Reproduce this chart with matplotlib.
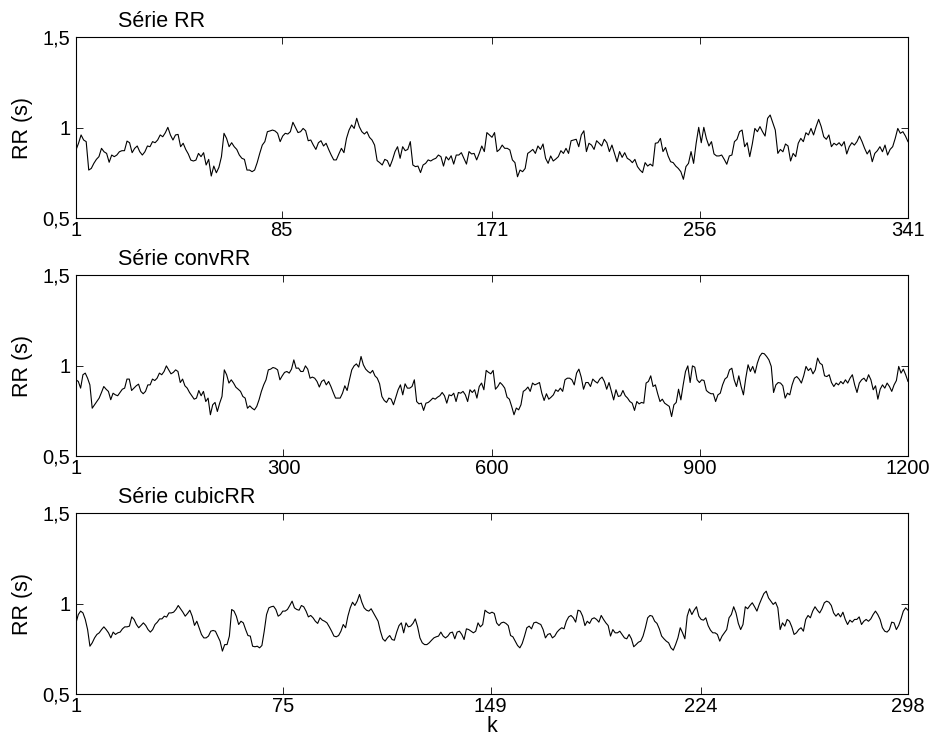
import numpy as np
import matplotlib.pyplot as plt

plt.rcParams['font.family'] = ['Liberation Sans', 'DejaVu Sans']

# RR intervals (s), original beat series
rr = [
    0.876, 0.913, 0.959, 0.931, 0.922, 0.765, 0.774, 0.802, 0.824, 0.839,
    0.885, 0.866, 0.857, 0.808, 0.848, 0.839, 0.848, 0.866, 0.872, 0.872,
    0.925, 0.916, 0.861, 0.885, 0.898, 0.866, 0.848, 0.866, 0.898, 0.894,
    0.922, 0.916, 0.931, 0.959, 0.949, 0.971, 1.001, 0.959, 0.931, 0.959,
    0.962, 0.894, 0.913, 0.879, 0.854, 0.820, 0.815, 0.820, 0.857, 0.839,
    0.861, 0.793, 0.824, 0.732, 0.787, 0.750, 0.780, 0.839, 0.968, 0.940,
    0.894, 0.916, 0.894, 0.879, 0.848, 0.830, 0.824, 0.765, 0.765, 0.756,
    0.765, 0.806, 0.857, 0.903, 0.922, 0.977, 0.981, 0.986, 0.981, 0.968,
    0.922, 0.953, 0.968, 0.964, 0.977, 1.029,
    1.001, 0.972, 0.977, 0.995, 0.982, 0.927, 0.931, 0.903, 0.879, 0.916,
    0.927, 0.898, 0.913, 0.879, 0.848, 0.821, 0.821, 0.854, 0.885, 0.861,
    0.940, 0.986, 1.014, 0.995, 1.051, 1.005, 0.977, 0.964, 0.977, 0.946,
    0.931, 0.903, 0.817, 0.806, 0.793, 0.824, 0.817, 0.784, 0.821, 0.867,
    0.894, 0.830, 0.894, 0.872, 0.879, 0.922, 0.793, 0.784, 0.787, 0.751,
    0.793, 0.802, 0.821, 0.815, 0.824, 0.830, 0.848, 0.839, 0.787, 0.839,
    0.821, 0.844, 0.798, 0.848, 0.848, 0.861, 0.830, 0.798, 0.867, 0.854,
    0.857, 0.821, 0.857, 0.898, 0.867, 0.972, 0.959, 0.946, 0.972, 0.867,
    0.879, 0.903, 0.885,
    0.885, 0.876, 0.821, 0.806, 0.728, 0.765, 0.756, 0.774, 0.857, 0.867,
    0.879, 0.857, 0.898, 0.879, 0.909, 0.830, 0.802, 0.843, 0.815, 0.826,
    0.839, 0.872, 0.857, 0.885, 0.857, 0.927, 0.931, 0.935, 0.894, 0.959,
    0.982, 0.867, 0.913, 0.903, 0.879, 0.927, 0.913, 0.898, 0.935, 0.916,
    0.867, 0.903, 0.857, 0.811, 0.867, 0.835, 0.861, 0.830, 0.821, 0.806,
    0.824, 0.784, 0.765, 0.751, 0.806, 0.787, 0.798, 0.787, 0.913, 0.916,
    0.940, 0.867, 0.890, 0.843, 0.811, 0.806, 0.787, 0.774, 0.756, 0.714,
    0.784, 0.802, 0.867, 0.802, 0.913, 1.001, 0.916, 1.001, 0.940, 0.898,
    0.922, 0.854, 0.843,
    0.843, 0.848, 0.824, 0.797, 0.843, 0.848, 0.922, 0.935, 0.977, 0.986,
    0.894, 0.916, 0.839, 0.909, 0.995, 0.977, 1.005, 0.977, 0.953, 1.051,
    1.069, 1.027, 0.986, 0.857, 0.879, 0.866, 0.909, 0.898, 0.815, 0.857,
    0.839, 0.913, 0.940, 0.922, 0.971, 0.959, 0.995, 0.959, 1.005, 1.045,
    1.005, 0.949, 0.935, 0.959, 0.894, 0.913, 0.903, 0.916, 0.898, 0.922,
    0.854, 0.894, 0.916, 0.903, 0.922, 0.953, 0.922, 0.885, 0.854, 0.876,
    0.811, 0.857, 0.872, 0.894, 0.866, 0.903, 0.848, 0.879, 0.894, 0.940,
    0.995, 0.968, 0.977, 0.953, 0.922,
]

# RR after convolution resampling
conv_rr = [
    0.921, 0.912, 0.875, 0.949, 0.958, 0.930, 0.893, 0.764, 0.783, 0.801,
    0.820, 0.851, 0.884, 0.869, 0.857, 0.811, 0.847, 0.838, 0.833, 0.851,
    0.869, 0.875, 0.925, 0.925, 0.862, 0.875, 0.888, 0.897, 0.857, 0.844,
    0.857, 0.893, 0.893, 0.925, 0.917, 0.930, 0.958, 0.949, 0.967, 0.998,
    0.976, 0.954, 0.962, 0.976, 0.967, 0.906, 0.925, 0.888, 0.875, 0.851,
    0.833, 0.814, 0.820, 0.862, 0.833, 0.857, 0.801, 0.820, 0.728, 0.783,
    0.796, 0.746, 0.792, 0.829, 0.976, 0.949, 0.903, 0.921, 0.903, 0.880,
    0.869, 0.857, 0.829, 0.820, 0.764, 0.777, 0.764, 0.755, 0.774, 0.811,
    0.857, 0.893, 0.921, 0.976, 0.980, 0.989, 0.985, 0.976, 0.921, 0.943,
    0.962, 0.967, 0.958, 0.980, 1.031, 0.985,
    0.986, 0.967, 0.967, 0.998, 0.980, 0.930, 0.936, 0.930, 0.912, 0.881,
    0.912, 0.921, 0.893, 0.912, 0.884, 0.851, 0.820, 0.820, 0.820, 0.847,
    0.888, 0.862, 0.921, 0.976, 0.998, 1.009, 0.991, 1.050, 1.004, 0.980,
    0.967, 0.958, 0.973, 0.943, 0.930, 0.899, 0.829, 0.807, 0.796, 0.820,
    0.814, 0.783, 0.825, 0.866, 0.893, 0.838, 0.899, 0.875, 0.875, 0.884,
    0.921, 0.801, 0.788, 0.792, 0.752, 0.792, 0.796, 0.807, 0.820, 0.814,
    0.825, 0.833, 0.851, 0.833, 0.792, 0.838, 0.833, 0.847, 0.801, 0.851,
    0.847, 0.857, 0.838, 0.801, 0.866, 0.851, 0.866, 0.820, 0.884, 0.903,
    0.866, 0.973, 0.962, 0.954, 0.973, 0.869, 0.884, 0.906, 0.893,
    0.875, 0.825, 0.814, 0.774, 0.728, 0.765, 0.755, 0.783, 0.857, 0.866,
    0.881, 0.857, 0.903, 0.893, 0.899, 0.906, 0.847, 0.807, 0.844, 0.814,
    0.825, 0.838, 0.866, 0.857, 0.875, 0.857, 0.921, 0.930, 0.930, 0.921,
    0.893, 0.958, 0.980, 0.936, 0.869, 0.906, 0.906, 0.884, 0.925, 0.912,
    0.903, 0.925, 0.936, 0.912, 0.869, 0.906, 0.857, 0.810, 0.866, 0.829,
    0.833, 0.862, 0.833, 0.820, 0.801, 0.792, 0.752, 0.801, 0.788, 0.796,
    0.792, 0.903, 0.912, 0.943, 0.884, 0.893, 0.844, 0.801, 0.814, 0.792,
    0.783, 0.774, 0.718, 0.783, 0.796, 0.869, 0.810, 0.893, 0.967, 0.998,
    0.906, 0.998, 0.991, 0.921, 0.906, 0.921, 0.917, 0.862, 0.851, 0.844,
    0.844,
    0.801, 0.838, 0.847, 0.893, 0.925, 0.936, 0.976, 0.985, 0.921, 0.884,
    0.943, 0.884, 0.838, 0.930, 1.004, 0.967, 0.995, 0.958, 1.013, 1.050,
    1.068, 1.065, 1.050, 1.031, 0.995, 0.851, 0.893, 0.906, 0.903, 0.888,
    0.820, 0.847, 0.838, 0.893, 0.930, 0.939, 0.925, 0.903, 0.943, 0.995,
    0.972, 0.985, 0.954, 0.976, 1.041, 1.013, 1.004, 0.943, 0.939, 0.949,
    0.906, 0.884, 0.903, 0.893, 0.912, 0.899, 0.921, 0.903, 0.930, 0.949,
    0.893, 0.851, 0.903, 0.921, 0.930, 0.912, 0.949, 0.921, 0.866, 0.888,
    0.814, 0.869, 0.893, 0.875, 0.903, 0.884, 0.857, 0.893, 0.917, 0.995,
    0.958, 0.980, 0.949, 0.912,
]

# RR after cubic spline resampling
cubic_rr = [
    0.893, 0.939, 0.958, 0.948, 0.912, 0.856, 0.764, 0.783, 0.810, 0.829,
    0.838, 0.856, 0.871, 0.856, 0.838, 0.810, 0.842, 0.829, 0.838, 0.842,
    0.860, 0.871, 0.871, 0.875, 0.926, 0.912, 0.884, 0.866, 0.879, 0.893,
    0.879, 0.856, 0.842, 0.856, 0.884, 0.897, 0.915, 0.915, 0.930, 0.925,
    0.948, 0.948, 0.952, 0.967, 0.989, 0.971, 0.952, 0.930, 0.945, 0.963,
    0.930, 0.879, 0.902, 0.866, 0.829, 0.810, 0.810, 0.820, 0.847, 0.851,
    0.847, 0.820, 0.792, 0.737, 0.773, 0.773, 0.820, 0.967, 0.958, 0.930,
    0.884, 0.902, 0.893, 0.856, 0.823, 0.820, 0.764, 0.761, 0.764, 0.755,
    0.768, 0.847, 0.939, 0.976, 0.982, 0.985, 0.967, 0.930, 0.939, 0.958,
    0.958, 0.967, 0.989, 1.013, 0.976,
    0.967, 0.963, 0.989, 0.982, 0.958, 0.926, 0.934, 0.921, 0.902, 0.890,
    0.921, 0.908, 0.902, 0.893, 0.871, 0.847, 0.820, 0.816, 0.823, 0.847,
    0.884, 0.866, 0.930, 0.976, 1.007, 0.989, 1.013, 1.050, 1.007, 0.976,
    0.963, 0.958, 0.971, 0.948, 0.926, 0.902, 0.847, 0.805, 0.792, 0.810,
    0.823, 0.801, 0.797, 0.842, 0.878, 0.893, 0.838, 0.893, 0.871, 0.875,
    0.890, 0.915, 0.871, 0.810, 0.783, 0.773, 0.773, 0.783, 0.797, 0.810,
    0.816, 0.820, 0.842, 0.820, 0.810, 0.820, 0.838, 0.842, 0.805, 0.842,
    0.847, 0.829, 0.801, 0.860, 0.856, 0.847, 0.838, 0.847, 0.893, 0.871,
    0.884, 0.963, 0.952, 0.945, 0.952, 0.945, 0.893, 0.878, 0.893, 0.897,
    0.890,
    0.878, 0.823, 0.816, 0.792, 0.768, 0.755, 0.779, 0.820, 0.866, 0.875,
    0.860, 0.893, 0.897, 0.890, 0.884, 0.856, 0.810, 0.829, 0.834, 0.810,
    0.820, 0.842, 0.856, 0.866, 0.860, 0.902, 0.926, 0.934, 0.921, 0.897,
    0.963, 0.958, 0.930, 0.878, 0.902, 0.890, 0.915, 0.921, 0.912, 0.897,
    0.934, 0.912, 0.893, 0.878, 0.820, 0.856, 0.838, 0.838, 0.847, 0.829,
    0.810, 0.805, 0.829, 0.805, 0.761, 0.773, 0.786, 0.792, 0.820, 0.866,
    0.921, 0.934, 0.930, 0.902, 0.890, 0.860, 0.820, 0.805, 0.792, 0.783,
    0.755, 0.742, 0.773, 0.810, 0.866, 0.838, 0.805, 0.930, 0.971, 0.939,
    0.963, 0.982, 0.930, 0.912, 0.908, 0.921, 0.878, 0.853, 0.838, 0.838,
    0.829, 0.792, 0.820, 0.838, 0.856, 0.921, 0.939, 0.982, 0.948, 0.890,
    0.856, 0.884, 0.982, 0.971, 0.989, 1.004, 0.982, 0.958, 0.995, 1.026,
    1.055, 1.068, 1.031, 1.013, 0.995, 1.007, 0.976, 0.856, 0.893, 0.875,
    0.912, 0.902, 0.871, 0.829, 0.838, 0.856, 0.866, 0.847, 0.912, 0.934,
    0.921, 0.958, 0.982, 0.963, 0.948, 0.971, 1.004, 1.013, 1.007, 0.989,
    0.948, 0.930, 0.945, 0.926, 0.952, 0.912, 0.884, 0.908, 0.897, 0.912,
    0.912, 0.926, 0.884, 0.902, 0.912, 0.902, 0.915, 0.939, 0.958, 0.939,
    0.912, 0.866, 0.847, 0.842, 0.856, 0.897, 0.893, 0.856, 0.879, 0.915,
    0.958, 0.976, 0.963,
]

titles = ['Série RR', 'Série convRR', 'Série cubicRR']
rr_ticks = [1, 85, 171, 256, 341]
conv_ticks = [1, 300, 600, 900, 1200]
cubic_ticks = [1, 75, 149, 224, 298]
y_ticks = [0.5, 1, 1.5]
y_ticklabels = ['0,5', '1', '1,5']

series = [rr, conv_rr, cubic_rr]
x_ticks = [rr_ticks, conv_ticks, cubic_ticks]
bottoms = [0.7097, 0.3928, 0.0759]

fig = plt.figure(figsize=(9.38, 7.51), dpi=100)

for vals, ticks, title, bottom in zip(series, x_ticks, titles, bottoms):
    ax = fig.add_axes([0.081, bottom, 0.887, 0.241])
    k = np.linspace(ticks[0], ticks[-1], len(vals))
    ax.plot(k, vals, color='k', lw=0.8)

    ax.set_xlim(ticks[0], ticks[-1])
    ax.set_ylim(0.5, 1.5)
    ax.set_xticks(ticks)
    ax.set_yticks(y_ticks)
    ax.set_yticklabels(y_ticklabels)
    ax.tick_params(direction='in', top=True, right=True, length=5,
                   width=0.6, labelsize=14.5)
    ax.tick_params(axis='x', pad=2.5)
    ax.tick_params(axis='y', pad=4)
    for sp in ax.spines.values():
        sp.set_linewidth(0.8)

    ax.set_ylabel('RR (s)', fontsize=15.5)
    ax.yaxis.set_label_coords(-0.052, 0.5)
    ax.text(0.0505, 1.055, title, transform=ax.transAxes, fontsize=15.5,
            ha='left', va='baseline')

ax.set_xlabel('k', fontsize=15.5, labelpad=0)

fig.savefig('out.png', dpi=100)
